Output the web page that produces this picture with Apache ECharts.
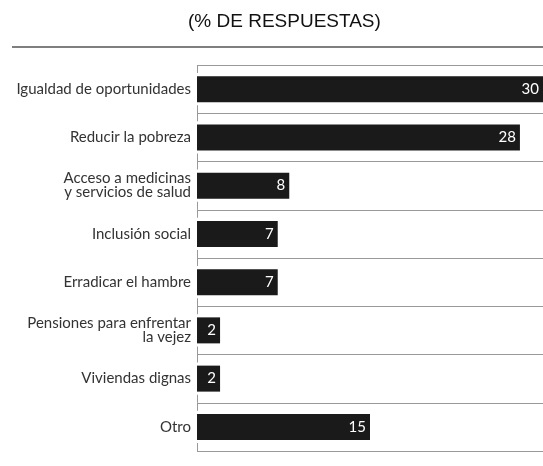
<!DOCTYPE html>
<html>
<head>
<meta charset="utf-8">
<script src="https://cdn.jsdelivr.net/npm/echarts@6/dist/echarts.min.js"></script>
<style>html,body{margin:0;padding:0;background:#fff;}#c{width:543px;height:466px;}</style>
</head>
<body>
<div id="c"></div>
<script>
var categories = ['Igualdad de oportunidades','Reducir la pobreza','Acceso a medicinas\ny servicios de salud','Inclusión social','Erradicar el hambre','Pensiones para enfrentar\nla vejez','Viviendas dignas','Otro'];
var values = [30, 28, 8, 7, 7, 2, 2, 15];
var titleText = '(% DE RESPUESTAS)';

var chart = echarts.init(document.getElementById('c'));
chart.setOption({
  animation: false,
  title: {
    text: titleText,
    left: 183,
    top: 7,
    textStyle: {fontFamily: 'Liberation Sans', fontSize: 19, fontWeight: 'normal', color: '#111'}
  },
  graphic: [{
    type: 'line',
    shape: {x1: 12, y1: 47, x2: 543, y2: 47},
    style: {stroke: '#555', lineWidth: 1.5}
  }],
  grid: {left: 197, right: 0, top: 65, bottom: 15, containLabel: false},
  xAxis: {
    type: 'value', min: 0, max: 30, show: false
  },
  yAxis: {
    type: 'category', data: categories, inverse: true,
    axisLine: {show: false}, axisTick: {show: false},
    splitLine: {show: true, interval: 0, lineStyle: {color: '#999', width: 1}},
    axisLabel: {
      margin: 6, fontFamily: 'Lato', fontSize: 15, color: '#333', lineHeight: 14, interval: 0
    }
  },
  series: [{
    type: 'bar', data: values, barWidth: 26,
    itemStyle: {color: '#1a1a1a'},
    label: {show: true, position: 'insideRight', distance: 4, color: '#fff', fontFamily: 'Lato', fontSize: 15}
  }, {
    type: 'custom',
    data: values.map(function (v, i) { return [0, i]; }),
    encode: {x: 0, y: 1},
    renderItem: function (params, api) {
      var p = api.coord([0, api.value(1)]);
      var h = api.size([0, 1])[1];
      var top = p[1] - h / 2, bot = p[1] + h / 2;
      var x = Math.round(p[0]) + 0.5;
      return {type: 'group', children: [
        {type: 'line', shape: {x1: x, y1: top, x2: x, y2: top + 8}, style: {stroke: '#999', lineWidth: 1}},
        {type: 'line', shape: {x1: x, y1: bot - 8, x2: x, y2: bot}, style: {stroke: '#999', lineWidth: 1}}
      ]};
    },
    silent: true, z: 1
  }]
});
</script>
</body>
</html>
